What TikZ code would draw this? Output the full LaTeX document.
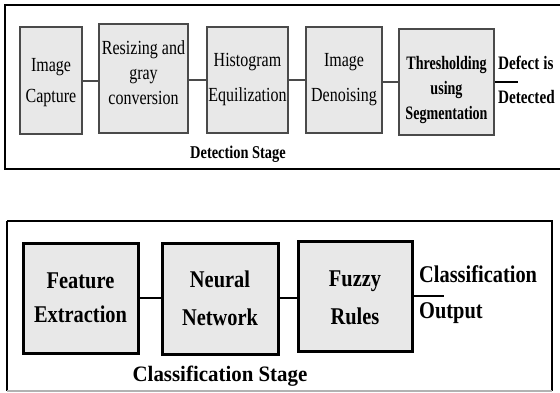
\documentclass[tikz,border=0pt]{standalone}
\usepackage{fontspec}
\newfontfamily\regf[FakeStretch=0.8]{Liberation Serif}
\newfontfamily\boldt[FakeStretch=0.74]{Liberation Serif Bold}
\newfontfamily\boldd[FakeStretch=0.8]{Liberation Serif Bold}
\newfontfamily\boldb[FakeStretch=0.85]{Liberation Serif Bold}
\newfontfamily\bolds[FakeStretch=0.95]{Liberation Serif Bold}
\definecolor{boxfill}{HTML}{E8E8E8}
\definecolor{topedge}{HTML}{4A4A4A}
\begin{document}
\begin{tikzpicture}[x=1pt,y=-1pt,
  frame/.style={draw=black,line width=2.5pt},
  topbox/.style={draw=topedge,fill=boxfill,line width=2pt,inner sep=0pt,align=center,
     font=\regf\fontsize{20}{25}\selectfont},
  botbox/.style={draw=black,fill=boxfill,line width=3pt,inner sep=0pt,align=center,
     font=\boldb\fontsize{24}{34}\selectfont},
  toplink/.style={draw=topedge,line width=2pt},
  botlink/.style={draw=black,line width=2.5pt},
  lbl/.style={inner sep=0pt,align=left}]
\useasboundingbox (0,0) rectangle (560,392);
% frames
\draw[frame] (5,5) rectangle (563,169);
\draw[frame] (7,221) -- (7,391);
\draw[frame] (7,221) -- (552,221) -- (552,391);
\draw[draw=gray!60,line width=1.5pt] (7,391) -- (552,391);
% top row
\node[topbox,minimum width=62pt,minimum height=107pt] (cap) at (51,80.5) {\rule{0pt}{18pt}Image\\[6pt]Capture};
\node[topbox,minimum width=89pt,minimum height=109pt] (res) at (143.5,78.5) {Resizing and\\gray\\conversion\rule[-12pt]{0pt}{12pt}};
\node[topbox,minimum width=81pt,minimum height=106pt] (his) at (247.5,80) {Histogram\\[10pt]Equilization};
\node[topbox,minimum width=76pt,minimum height=106pt] (den) at (344,80) {Image\\[10pt]Denoising};
\node[topbox,minimum width=95pt,minimum height=106pt,font=\boldt\fontsize{19}{25}\selectfont] (thr) at (446.5,82) {\rule{0pt}{30pt}Thresholding\\using\\Segmentation};
\coordinate (dend) at (518,82);
\node[lbl,anchor=west,font=\boldd\fontsize{19}{34}\selectfont] (det) at (498,80) {Defect is\\Detected};
\node[inner sep=0pt,font=\boldd\fontsize{18}{18}\selectfont] (dstage) at (238,154) {Detection Stage};
\draw[toplink] (cap.east) -- (cap.east -| res.west);
\draw[toplink] (res.east |- his.east) -- (his.east -| his.west);
\draw[toplink] (his.east) -- (den.west);
\draw[toplink] (den.east |- thr.east) -- (thr.west);
\draw[draw=black,line width=2pt] (thr.east) -- (dend);
% bottom row
\node[botbox,minimum width=115pt,minimum height=110pt] (fe) at (80.5,298) {Feature\\Extraction};
\node[botbox,minimum width=116pt,minimum height=111pt] (nn) at (220,298.5) {Neural\\[4pt]Network};
\node[botbox,minimum width=114pt,minimum height=110pt] (fz) at (355,296) {\rule{0pt}{20pt}Fuzzy\\[4pt]Rules};
\coordinate (fend) at (444,296);
\node[lbl,anchor=west,font=\boldb\fontsize{24}{36}\selectfont] (cout) at (419,295) {Classification\\Output};
\node[inner sep=0pt,font=\bolds\fontsize{22}{24}\selectfont] (cstage) at (220,376) {Classification Stage};
\draw[botlink] (fe.east |- 0,298) -- (nn.west |- 0,298);
\draw[botlink] (nn.east |- 0,298) -- (fz.west |- 0,298);
\draw[botlink] (fz.east) -- (fend);
\end{tikzpicture}
\end{document}
